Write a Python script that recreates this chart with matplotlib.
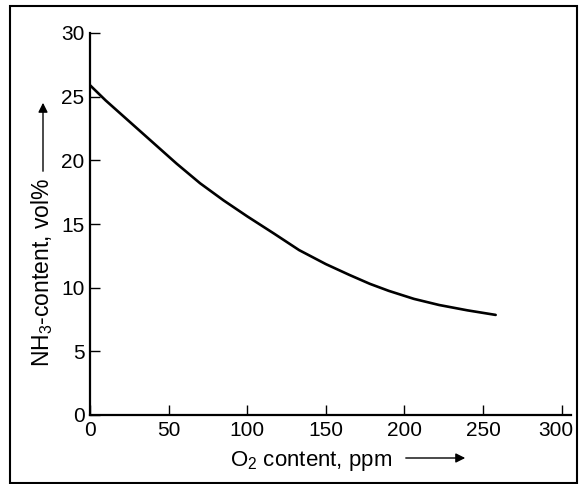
import matplotlib
matplotlib.use("Agg")
import matplotlib.pyplot as plt
from matplotlib.patches import Rectangle
from matplotlib.transforms import ScaledTranslation

# Data
o2_ppm = [0, 10, 20, 30, 40, 55, 70, 85, 100, 117, 133, 150, 165, 178, 190, 206, 222, 240, 258]
nh3_vol = [25.9, 24.7, 23.6, 22.5, 21.4, 19.75, 18.2, 16.85, 15.6, 14.25, 12.95, 11.85,
           11.0, 10.3, 9.75, 9.12, 8.64, 8.22, 7.86]
x_ticks = [0, 50, 100, 150, 200, 250, 300]
y_ticks = [0, 5, 10, 15, 20, 25, 30]

FAM = ['Liberation Sans', 'DejaVu Sans']
plt.rcParams['font.family'] = FAM
plt.rcParams['mathtext.fontset'] = 'custom'
plt.rcParams['mathtext.rm'] = 'Liberation Sans'

fig = plt.figure(figsize=(5.79, 4.84), dpi=100)
ax = fig.add_axes([90/579, 1-415/484, (561.7-90)/579, (415-33)/484])

ax.plot(o2_ppm, nh3_vol, color='black', lw=1.9, solid_capstyle='round',
        solid_joinstyle='round')

ax.set_xlim(0, 300)
ax.set_ylim(0, 30)
ax.set_xticks(x_ticks)
ax.set_yticks(y_ticks)
ax.tick_params(direction='in', length=7, width=1, labelsize=15, colors='black', pad=4)
ax.spines['top'].set_visible(False)
ax.spines['right'].set_visible(False)
for s in ('left', 'bottom'):
    ax.spines[s].set_linewidth(1.6)
ax.spines['bottom'].set_bounds(0, 306)

# shift the last x tick label slightly left, as in the reference
last = ax.get_xticklabels()[-1]
last.set_transform(last.get_transform() + ScaledTranslation(-6/100, 0, fig.dpi_scale_trans))

# Axis labels with arrows
fig.text(230/579, 1-461/484, 'O$_2$ content, ppm', fontsize=16, ha='left', va='center')
ax.annotate('', xy=(468/579, 1-458/484), xytext=(403/579, 1-458/484),
            xycoords='figure fraction', textcoords='figure fraction',
            arrowprops=dict(arrowstyle='-|>', color='black', lw=1.0, mutation_scale=14))

fig.text(42/579, 1-367/484, 'NH$_3$-content, vol%', fontsize=16.5, rotation=90,
         ha='center', va='bottom')
ax.annotate('', xy=(43/579, 1-100/484), xytext=(43/579, 1-174/484),
            xycoords='figure fraction', textcoords='figure fraction',
            arrowprops=dict(arrowstyle='-|>', color='black', lw=1.0, mutation_scale=14))

# Outer frame
fig.patches.append(Rectangle((10/579, 1/484), 567/579, 1-7/484, transform=fig.transFigure,
                             fill=False, edgecolor='black', lw=1.5))

fig.savefig('out.png', dpi=100)
